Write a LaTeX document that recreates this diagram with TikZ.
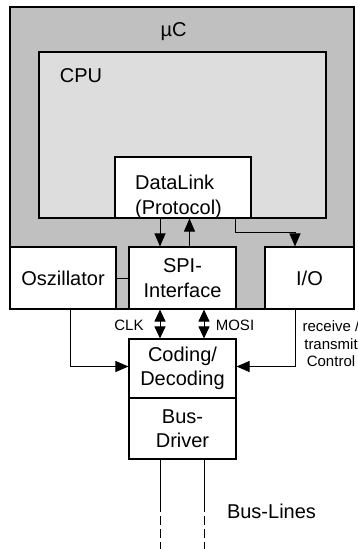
\documentclass[tikz,border=0pt]{standalone}
\usepackage{fontspec}
\setmainfont{Liberation Sans}
\usetikzlibrary{arrows.meta,calc}
\definecolor{ucgray}{HTML}{C0C0C0}
\definecolor{cpugray}{HTML}{DDDDDD}
\begin{document}
\begin{tikzpicture}[x=1pt,y=-1pt,
  block/.style={draw,line width=1.1pt,inner sep=0pt,align=center,
    font=\fontsize{20}{24.5}\selectfont},
  big/.style={inner sep=0pt,align=center,font=\fontsize{20}{24.5}\selectfont},
  lbl/.style={inner sep=0pt,align=center,font=\fontsize{15}{17.5}\selectfont},
  conn/.style={line width=1pt},
  tip/.style={-{Triangle[length=13pt,width=11pt]}},
  dtip/.style={{Triangle[length=12pt,width=11pt]}-{Triangle[length=12pt,width=11pt]}},
  busline/.style={line width=1pt,dash pattern=on 9pt off 4pt},
  ]
\clip (0,0) rectangle (358,549);
\fill[white] (0,0) rectangle (358,549);

% microcontroller and CPU
\node[block,fill=ucgray,minimum width=344pt,minimum height=302pt] (uc) at (182,158) {};
\node[big] (uclabel) at (173.5,32) {µC};
\node[block,fill=cpugray,minimum width=287pt,minimum height=166pt] (cpu) at (182.5,135) {};
\node[big] (cpulabel) at (81,75.5) {CPU};
\node[block,fill=white,minimum width=136pt,minimum height=61pt] (dl) at (183,187.5) {};
\node[big,align=left,anchor=west] (dltext) at (135,197) {DataLink\\(Protocol)};

% peripheral blocks
\node[block,fill=white,minimum width=106pt,minimum height=62pt] (osz) at (63,278) {Oszillator};
\node[block,fill=white,minimum width=107pt,minimum height=62pt] (spi) at (182.5,278) {SPI-\\Interface};
\node[block,fill=white,minimum width=89pt,minimum height=62pt] (io) at (309.5,278) {I/O};

% line coding and bus driver
\node[block,fill=white,minimum width=107pt,minimum height=59pt] (cod) at (182.5,368.5) {Coding/\\Decoding};
\node[block,fill=white,minimum width=107pt,minimum height=61pt] (drv) at (182.5,428.5) {Bus-\\Driver};

% reference x positions for the vertical connectors
\coordinate (xa) at (160,0);
\coordinate (xb) at (189.5,0);
\coordinate (xc) at (204,0);
\coordinate (xd) at (235,0);
\coordinate (xf) at (70,0);
\coordinate (jog) at (295,232.7);
\coordinate (hy) at (0,366.5);
\coordinate (brkA) at (160,503);
\coordinate (endA) at (160,553);
\coordinate (brkB) at (204,503);
\coordinate (endB) at (204,553);

% connectors
\draw[conn] (osz.east) -- (spi.west);
\draw[conn,tip] (dl.south -| xa) -- (spi.north -| xa);
\draw[conn,tip] (spi.north -| xb) -- (dl.south -| xb);
\draw[conn,tip] (dl.south -| xd) |- (jog) -- (io.north -| jog);
\draw[conn,dtip] (spi.south -| xa) -- (cod.north -| xa);
\draw[conn,dtip] (spi.south -| xc) -- (cod.north -| xc);
\draw[conn,tip] (osz.south -| xf) |- (cod.west |- hy);
\draw[conn,tip] (io.south -| jog) |- (cod.east |- hy);
\draw[conn] (drv.south -| xa) -- (brkA);
\draw[busline] (brkA) -- (endA);
\draw[conn] (drv.south -| xc) -- (brkB);
\draw[busline] (brkB) -- (endB);

% signal labels
\node[lbl,anchor=base] (clk) at (129,330) {CLK};
\node[lbl,anchor=base] (mosi) at (235,330) {MOSI};
\node[lbl] (rtc) at (331,343.7) {receive /\\transmit\\Control};
\node[big,anchor=base] (buslines) at (271.5,518) {Bus-Lines};
\end{tikzpicture}
\end{document}
